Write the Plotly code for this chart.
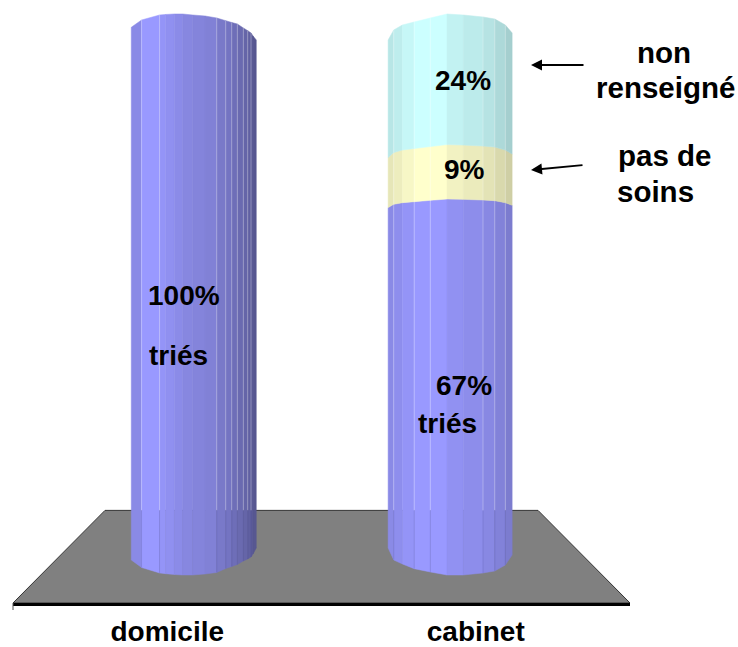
import plotly.graph_objects as go

# Chart values (percent of each column)
CATEGORIES = ["domicile", "cabinet"]
TRIES = [100, 67]
PAS_DE_SOINS = [0, 9]
NON_RENSEIGNE = [0, 24]

# Fill colours of the three stacked segments
COLOR_TRIES = (153, 153, 255)
COLOR_SOINS = (255, 255, 204)
COLOR_NR = (204, 255, 255)

# Scale helpers: the column body is 508 px tall for 100 %, the axis slot 308.5 px wide
PCT_HEIGHT = 5.08
SLOT = 308.5
Y_MIN, Y_MAX = -10.83, 107.87
FLOOR_BACK = 7.4

# Faceted cylinder geometry. Edges run from -1 (left) to 1 (right) across the column,
# rise and drop are the curvature of the top and bottom rims in px.
COLUMNS = [
    dict(center=0.086, half=62.5 / SLOT,
         edges=[-1, -.835, -.547, -.45, -.31, -.18, -.02, .18, .367, .511, .607, .697, .793, .863, .916, .948, 1],
         rise=[12.7, 20, 25, 25.5, 26, 26, 25, 24, 22, 19.3, 17.5, 16, 12, 9.3, 7, 4, 0],
         drop=[12, 19.5, 25, 25.7, 26.5, 27, 27, 26, 24.5, 20.5, 18.5, 16.5, 13, 11, 9, 6, 0],
         shade=[.9, 1, .97, .94, .91, .88, .86, .84, .79, .76, .72, .69, .66, .63, .6, .57],
         light=[-.835, -.547, .367, .511, .607, .697, .793, .863, .916]),
    dict(center=0.917, half=62 / SLOT,
         edges=[-1, -.91, -.77, -.58, -.32, -.05, .21, .53, .72, .89, 1],
         rise=[0, 10, 15, 18, 22, 26, 25, 23, 21, 15, 7],
         drop=[0, 12, 16, 20.7, 24, 27, 27, 25, 23, 17, 7],
         shade=[.9, .93, .97, 1, 1, .95, .92, .89, .85, .81],
         light=[-.91, -.58, -.32, .53, .72, .89]),
]

# Rim curvature and small lift of each boundary in the stack, by upper level reached
RIM_SCALE = {100: 1.0, 76: 0.5, 67: 0.33}
RIM_LIFT = {100: 0.0, 76: 0.85, 67: 0.0}


def tint(rgb, k):
    return "rgb(%d,%d,%d)" % tuple(round(c * k) for c in rgb)


def rim(column, level, i):
    if level <= 0:
        return -column["drop"][i] / PCT_HEIGHT
    return level + RIM_LIFT[level] + RIM_SCALE[level] * column["rise"][i] / PCT_HEIGHT


fig = go.Figure()

# Grey floor of the chart
floor_back_left = -0.5 + 92 / SLOT
floor_back_right = 1.5 - 92 / SLOT
fig.add_trace(go.Scatter(
    x=[-0.5, floor_back_left, floor_back_right, 1.5, -0.5],
    y=[Y_MIN, FLOOR_BACK, FLOOR_BACK, Y_MIN, Y_MIN],
    mode="lines", fill="toself", fillcolor="#808080",
    line=dict(color="#333333", width=1), hoverinfo="skip", showlegend=False))

# Column facets, one polygon per facet and per segment
for c, column in enumerate(COLUMNS):
    stack = [(TRIES[c], COLOR_TRIES), (PAS_DE_SOINS[c], COLOR_SOINS), (NON_RENSEIGNE[c], COLOR_NR)]
    x_edges = [column["center"] + e * column["half"] for e in column["edges"]]
    low = 0
    for value, rgb in stack:
        if value == 0:
            continue
        high = low + value
        for i, k in enumerate(column["shade"]):
            colour = tint(rgb, k)
            fig.add_trace(go.Scatter(
                x=[x_edges[i], x_edges[i + 1], x_edges[i + 1], x_edges[i], x_edges[i]],
                y=[rim(column, low, i), rim(column, low, i + 1),
                   rim(column, high, i + 1), rim(column, high, i), rim(column, low, i)],
                mode="lines", fill="toself", fillcolor=colour,
                line=dict(color=colour, width=0.5), hoverinfo="skip", showlegend=False))
        low = high

    # Pale seams between facets above the floor line, faint darker ones below it
    top = low
    xs, ys, xs_low, ys_low = [], [], [], []
    for e in column["light"]:
        i = column["edges"].index(e)
        xs += [x_edges[i], x_edges[i], None]
        ys += [FLOOR_BACK, rim(column, top, i), None]
        xs_low += [x_edges[i], x_edges[i], None]
        ys_low += [rim(column, 0, i), FLOOR_BACK, None]
    fig.add_trace(go.Scatter(x=xs, y=ys, mode="lines",
                             line=dict(color="rgba(255,255,255,0.3)", width=1),
                             hoverinfo="skip", showlegend=False))
    fig.add_trace(go.Scatter(x=xs_low, y=ys_low, mode="lines",
                             line=dict(color="rgba(70,70,150,0.18)", width=1),
                             hoverinfo="skip", showlegend=False))

FONT = dict(family="Liberation Sans", size=28, color="black", weight="bold")
SIDE_FONT = dict(FONT, size=29.5)

MARGIN_L, MARGIN_R, MARGIN_B = 13, 108, 44


def px_x(px):
    return (px - 13) / SLOT - 0.5


def px_y(px):
    return (548 - px) / PCT_HEIGHT


inner_labels = [
    ("100%", 184, 296), ("triés", 178, 356), ("67%", 464, 386), ("triés", 447, 424),
    ("24%", 463, 81), ("9%", 464, 170),
]
side_labels = [
    ("non", 664, 53), ("renseigné", 665, 88), ("pas de", 664, 156), ("soins", 655, 192),
]
annotations = [dict(x=px_x(x), y=px_y(y), text=t, showarrow=False, font=FONT,
                    xanchor="center", yanchor="middle") for t, x, y in inner_labels]

# Labels to the right of the plotting area sit in paper coordinates
plot_width = 738 - MARGIN_L - MARGIN_R
annotations += [dict(x=(x - MARGIN_L) / plot_width, y=px_y(y), xref="paper", yref="y", text=t,
                     showarrow=False, font=SIDE_FONT, xanchor="center", yanchor="middle")
                for t, x, y in side_labels]

# Pointers from the side labels to the upper segments
for head_x, head_y, dx, dy in [(531, 65, 54, 0), (531, 170, 53, -5)]:
    annotations.append(dict(x=px_x(head_x), y=px_y(head_y), ax=dx, ay=dy, text="",
                            axref="pixel", ayref="pixel", showarrow=True,
                            arrowhead=2, arrowsize=1.1, arrowwidth=2, arrowcolor="black"))

fig.update_layout(
    width=738, height=647, autosize=False,
    margin=dict(l=MARGIN_L, r=MARGIN_R, t=0, b=MARGIN_B, pad=0, autoexpand=False),
    paper_bgcolor="white", plot_bgcolor="white",
    showlegend=False, annotations=annotations,
    # Single short tick at the start of the axis
    shapes=[dict(type="line", xref="paper", yref="paper", x0=0, x1=0, y0=0, y1=-7 / 603,
                 line=dict(color="#555555", width=1))],
    xaxis=dict(range=[-0.5, 1.5], tickvals=[0, 1], ticktext=CATEGORIES, automargin=False,
               showgrid=False, zeroline=False, showline=True, linecolor="black",
               linewidth=3, ticks="", tickfont=FONT, ticklabelstandoff=1),
    yaxis=dict(range=[Y_MIN, Y_MAX], visible=False, automargin=False),
)

fig.write_html("out.html")
